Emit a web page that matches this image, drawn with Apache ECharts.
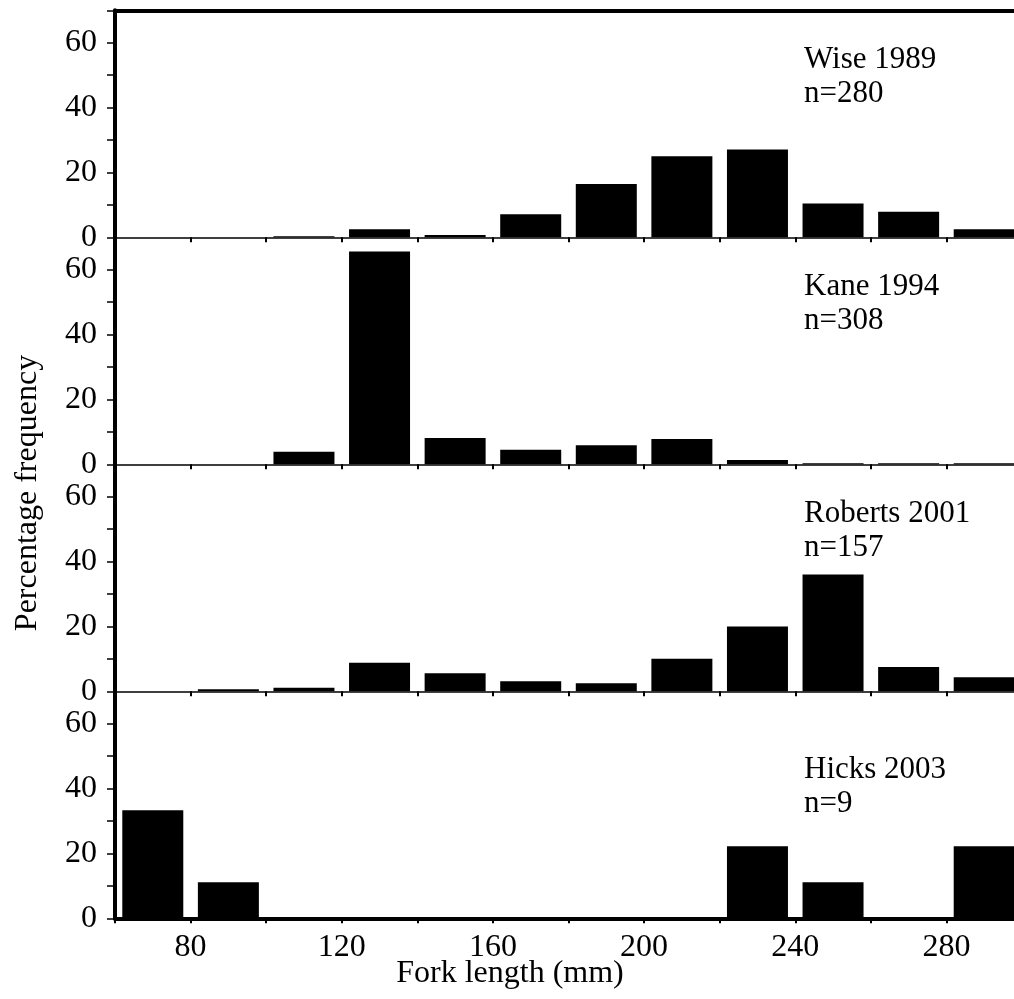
<!DOCTYPE html>
<html>
<head>
<meta charset="utf-8">
<script src="https://cdn.jsdelivr.net/npm/echarts@6/dist/echarts.min.js"></script>
<style>
  html, body { margin: 0; padding: 0; background: #fff; overflow: hidden; }
  #chart { width: 1014px; height: 999px; }
</style>
</head>
<body>
<div id="chart"></div>
<script>
// Fork-length bins (mm), 20 mm wide, labelled by bin centre
const binCentres = [70, 90, 110, 130, 150, 170, 190, 210, 230, 250, 270, 290];

// Percentage frequency per bin for each study
const wise1989    = [0, 0, 0.36, 2.5, 0.7, 7.1, 16.4, 25.0, 27.1, 10.4, 7.9, 2.5];
const kane1994    = [0, 0, 3.9, 65.6, 8.1, 4.5, 5.9, 7.8, 1.3, 0.3, 0.3, 0.3];
const roberts2001 = [0, 0.6, 1.1, 8.8, 5.6, 3.1, 2.5, 10.0, 20.0, 36.0, 7.5, 4.3];
const hicks2003   = [33.3, 11.1, 0, 0, 0, 0, 0, 0, 22.2, 11.1, 0, 22.2];

const panelNames = ['Wise 1989', 'Kane 1994', 'Roberts 2001', 'Hicks 2003'];
const panelN     = ['n=280', 'n=308', 'n=157', 'n=9'];
const panelData  = [wise1989, kane1994, roberts2001, hicks2003];

// Axis ranges and tick labels
const xMin = 60, xMax = 300, xStep = 20;
const xTickLabels = [80, 120, 160, 200, 240, 280];
const yMin = 0, yMax = 70, yStep = 10;
const yTickLabels = [0, 20, 40, 60];

const FONT = "'Liberation Serif', 'Times New Roman', serif";
// The plot runs a little past the right edge of the canvas
const plotLeft = 115, plotTop = 10.3, panelH = 227, plotW = 907;

const chart = echarts.init(document.getElementById('chart'), null, { renderer: 'canvas' });

const grids = [], xAxes = [], yAxes = [], series = [], graphics = [];

panelData.forEach((values, i) => {
  const isBottom = i === panelData.length - 1;
  const top = plotTop + panelH * i;
  grids.push({
    left: plotLeft, width: plotW, top: top, height: panelH,
    containLabel: false, outerBoundsMode: 'none'
  });

  xAxes.push({
    type: 'value', gridIndex: i, min: xMin, max: xMax, interval: xStep,
    position: 'bottom',
    axisLine: { show: true, onZero: false, lineStyle: { color: '#000', width: isBottom ? 4 : 1.5 } },
    axisTick: { show: true, length: 5, lineStyle: { color: '#000', width: 2 } },
    axisLabel: {
      show: isBottom, margin: 13, color: '#000', fontFamily: FONT, fontSize: 32,
      formatter: v => xTickLabels.includes(v) ? String(v) : ''
    },
    splitLine: { show: false }
  });

  yAxes.push({
    type: 'value', gridIndex: i, min: yMin, max: yMax, interval: yStep,
    axisLine: { show: true, onZero: false, lineStyle: { color: '#000', width: 4 } },
    axisTick: { show: true, length: 8, lineStyle: { color: '#000', width: 1.5 } },
    axisLabel: {
      margin: 18, color: '#000', fontFamily: FONT, fontSize: 32,
      formatter: v => yTickLabels.includes(v) ? String(v) : ''
    },
    splitLine: { show: false }
  });

  series.push({
    type: 'bar', xAxisIndex: i, yAxisIndex: i,
    barWidth: 61,
    data: binCentres.map((c, k) => [c, values[k]]),
    itemStyle: { color: '#000' },
    silent: true
  });

  graphics.push({
    type: 'text', left: 804, top: top + (isBottom ? 62 : 33),
    style: {
      text: panelNames[i] + '\n' + panelN[i],
      font: '31px ' + FONT, lineHeight: 34, fill: '#000'
    }
  });
});

// Heavy frame line along the top of the first panel
xAxes.push({
  type: 'value', gridIndex: 0, min: xMin, max: xMax, position: 'top',
  axisLine: { show: true, onZero: false, lineStyle: { color: '#000', width: 4 } },
  axisTick: { show: false }, axisLabel: { show: false }, splitLine: { show: false }
});

graphics.push({
  type: 'text', x: 510, y: 974,
  style: { text: 'Fork length (mm)', font: '32px ' + FONT, fill: '#000', textAlign: 'center', textVerticalAlign: 'middle' }
});
graphics.push({
  type: 'text', x: 28, y: 493, rotation: Math.PI / 2,
  style: { text: 'Percentage frequency', font: '32px ' + FONT, fill: '#000', textAlign: 'center', textVerticalAlign: 'middle' }
});

chart.setOption({
  animation: false,
  backgroundColor: '#fff',
  grid: grids,
  xAxis: xAxes,
  yAxis: yAxes,
  series: series,
  graphic: graphics
});
</script>
</body>
</html>
